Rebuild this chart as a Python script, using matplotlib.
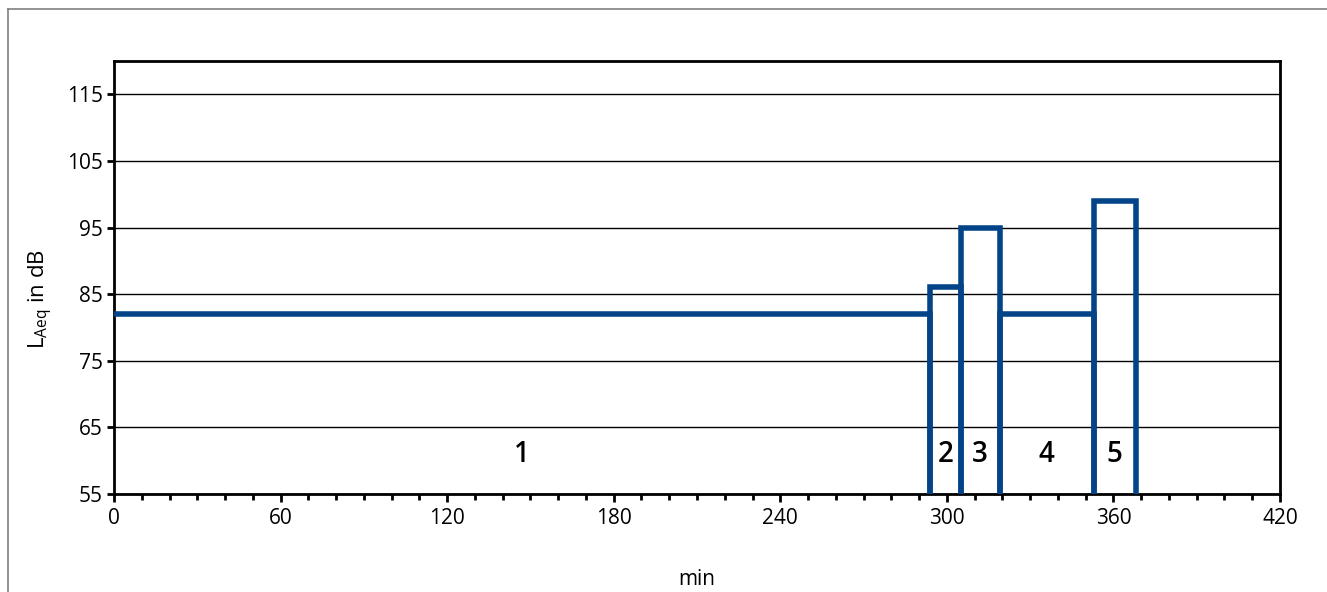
import matplotlib.pyplot as plt
from matplotlib.lines import Line2D
from matplotlib.ticker import MultipleLocator
import numpy as np

plt.rcParams.update({
    "font.family": ["Open Sans", "DejaVu Sans"],
    "font.size": 15,
})

# --- Data ---
seg_start = [0, 294, 305, 319, 353]
seg_end = [294, 305, 319, 353, 368]
seg_level = [82, 86, 95, 82, 99]
seg_labels = ["1", "2", "3", "4", "5"]
base = 55

line_color = "#034488"

fig = plt.figure(figsize=(13.27, 5.92), dpi=100)
ax = fig.add_axes([114 / 1327, 1 - 494 / 592, (1280 - 114) / 1327, (494 - 61) / 592])

# outer grey frame (left and top edges visible)
fig.add_artist(Line2D([8 / 1327, 8 / 1327], [0, 1 - 9 / 592], color="#808080", lw=1.2))
fig.add_artist(Line2D([8 / 1327, 1], [1 - 9 / 592, 1 - 9 / 592], color="#808080", lw=1.2))

for i, (s, e, lev) in enumerate(zip(seg_start, seg_end, seg_level)):
    if i == 0:
        xs, ys = [s, e, e], [lev, lev, base]
    else:
        xs, ys = [s, s, e, e], [base, lev, lev, base]
    ax.plot(xs, ys, color=line_color, lw=4, solid_joinstyle="miter", zorder=3)
    ax.text((s + e) / 2, 61, seg_labels[i], ha="center", va="center",
            fontsize=20, fontweight="semibold", zorder=4)

ax.set_xlim(0, 420)
ax.set_ylim(55, 120)
ax.xaxis.set_major_locator(MultipleLocator(60))
ax.xaxis.set_minor_locator(MultipleLocator(10))
ax.set_yticks(np.arange(55, 116, 10))
ax.yaxis.grid(True, color="black", lw=1)
ax.set_axisbelow(True)

for sp in ax.spines.values():
    sp.set_linewidth(2)
ax.tick_params(which="major", length=6, width=2, direction="out", labelsize=15)
ax.tick_params(which="minor", length=4, width=2, direction="out")
ax.tick_params(axis="x", which="major", pad=4)
ax.tick_params(axis="y", which="major", length=5, pad=3)

ax.set_xlabel("min", fontsize=15, labelpad=29)
ax.set_ylabel("L$_{\\mathregular{Aeq}}$ in dB", fontsize=16)
ax.yaxis.set_label_coords(-0.051, 0.45)

plt.savefig("out.png", dpi=100)
